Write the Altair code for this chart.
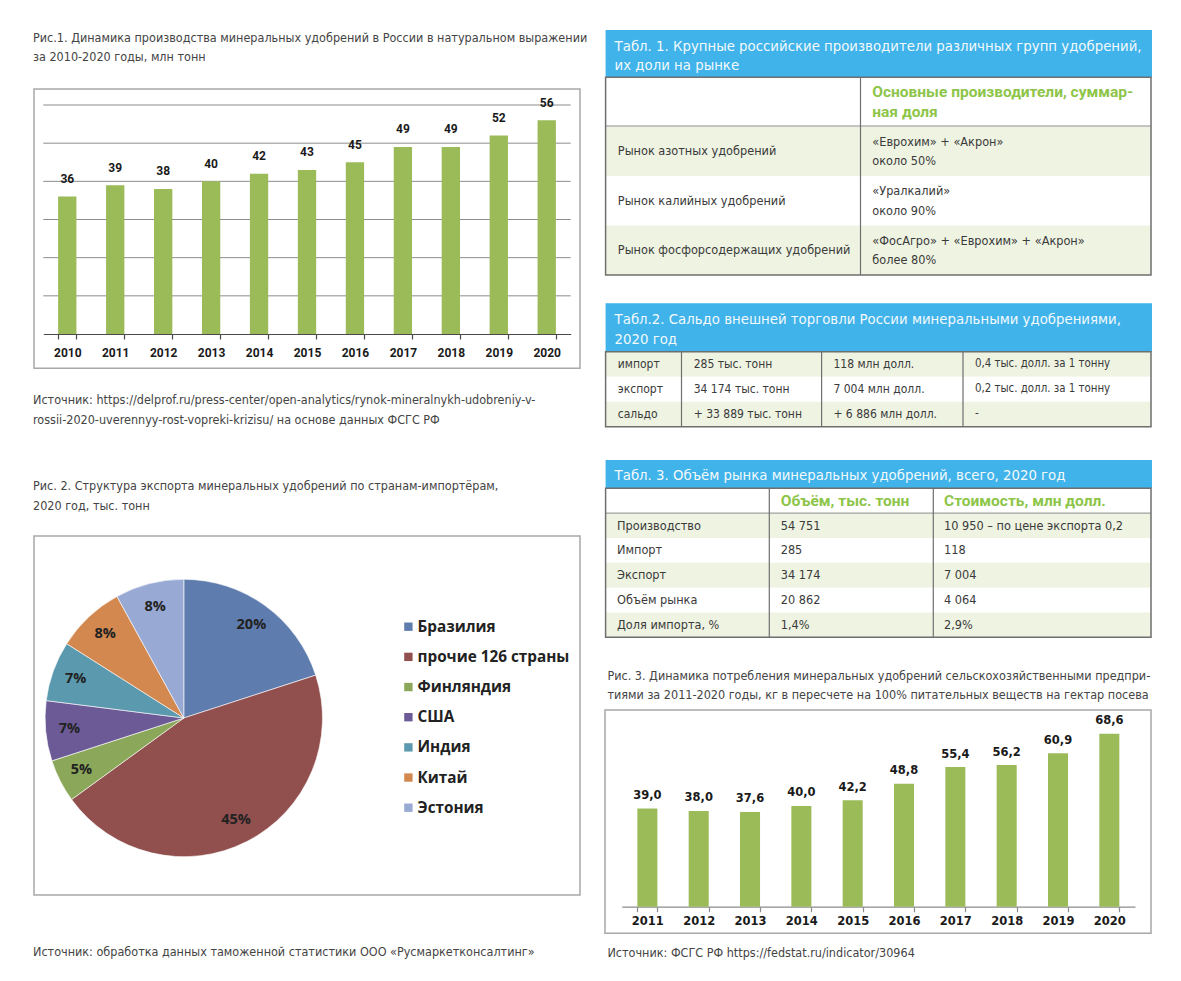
import altair as alt
import pandas as pd

# ---------------- data ----------------
years1 = ["2010", "2011", "2012", "2013", "2014", "2015", "2016", "2017", "2018", "2019", "2020"]
prod1 = [36, 39, 38, 40, 42, 43, 45, 49, 49, 52, 56]
grid1 = [10, 20, 30, 40, 50, 60]

countries = ["Бразилия", "прочие 126 страны", "Финляндия", "США", "Индия", "Китай", "Эстония"]
shares = [20, 45, 5, 7, 7, 8, 8]
pie_colors = ["#5F7CAE", "#914F4E", "#8BA85A", "#6C5A96", "#5B99AE", "#D2884F", "#98A9D4"]

years3 = ["2011", "2012", "2013", "2014", "2015", "2016", "2017", "2018", "2019", "2020"]
cons3 = [39.0, 38.0, 37.6, 40.0, 42.2, 48.8, 55.4, 56.2, 60.9, 68.6]

title1 = ["Рис.1. Динамика производства минеральных удобрений в России в натуральном выражении",
          "за 2010-2020 годы, млн тонн"]
source1 = ["Источник: https://delprof.ru/press-center/open-analytics/rynok-mineralnykh-udobreniy-v-",
           "rossii-2020-uverennyy-rost-vopreki-krizisu/ на основе данных ФСГС РФ"]
title2 = ["Рис. 2. Структура экспорта минеральных удобрений по странам-импортёрам,",
          "2020 год, тыс. тонн"]
source2 = ["Источник: обработка данных таможенной статистики ООО «Русмаркетконсалтинг»"]
title3 = ["Рис. 3. Динамика потребления минеральных удобрений сельскохозяйственными предпри-",
          "тиями за 2011-2020 годы, кг в пересчете на 100% питательных веществ на гектар посева"]
source3 = ["Источник: ФСГС РФ https://fedstat.ru/indicator/30964"]

t1_title = ["Табл. 1. Крупные российские производители различных групп удобрений,",
            "их доли на рынке"]
t1_keys = ["h", "r1", "r2", "r3"]
t1_head = "Основные производители, суммар-\nная доля"
t1_col1 = ["Рынок азотных удобрений", "Рынок калийных удобрений", "Рынок фосфорсодержащих удобрений"]
t1_col2 = ["«Еврохим» + «Акрон»\nоколо 50%", "«Уралкалий»\nоколо 90%",
           "«ФосАгро» + «Еврохим» + «Акрон»\nболее 80%"]

t2_title = ["Табл.2. Сальдо внешней торговли России минеральными удобрениями,", "2020 год"]
t2_keys = ["импорт", "экспорт", "сальдо"]
t2_col2 = ["285 тыс. тонн", "34 174 тыс. тонн", "+ 33 889 тыс. тонн"]
t2_col3 = ["118 млн долл.", "7 004 млн долл.", "+ 6 886 млн долл."]
t2_col4 = ["0,4 тыс. долл. за 1 тонну", "0,2 тыс. долл. за 1 тонну", "-"]

t3_title = ["Табл. 3. Объём рынка минеральных удобрений, всего, 2020 год"]
t3_keys = ["h", "Производство", "Импорт", "Экспорт", "Объём рынка", "Доля импорта, %"]
t3_head = ["Объём, тыс. тонн", "Стоимость, млн долл."]
t3_col2 = ["54 751", "285", "34 174", "20 862", "1,4%"]
t3_col3 = ["10 950 – по цене экспорта 0,2", "118", "7 004", "4 064", "2,9%"]

# ---------------- style ----------------
O = 8
W, H = 1165, 965


def c(v):
    return v - O


NARROW = "DejaVu Sans Condensed, DejaVu Sans, sans-serif"
BOLDF = "Roboto, Open Sans, sans-serif"
WIDE = "DejaVu Sans, Verdana, sans-serif"
LEG = "Open Sans, Noto Sans, sans-serif"

BLUE = "#3FB3EA"
HEADTXT = "#F3F9FC"
GREENTXT = "#8DC549"
ROWBG = "#EEF3E2"
BORDER = "#6F6F6F"
TXT = "#3A3A3A"
CAP = "#444444"
BAR = "#9BBB59"
FRAME = "#A8A8A8"

CAPSIZE = 12.5
BODYSIZE = 12.6
HEADSIZE = 14.8
LH = 19.5

ONE = pd.DataFrame({"k": [0]})
layers = []


def text(s, x, y, size=CAPSIZE, color=CAP, weight="normal", font=NARROW):
    layers.append(alt.Chart(ONE).mark_text(text=s, font=font, fontSize=size, fontWeight=weight,
                                           color=color, align="left", baseline="middle")
                  .encode(x=alt.value(c(x)), y=alt.value(c(y))))


def rect(x1, y1, x2, y2, fill="transparent", stroke=None, sw=0):
    kw = dict(fill=fill)
    if stroke:
        kw.update(stroke=stroke, strokeWidth=sw)
    layers.append(alt.Chart(ONE).mark_rect(**kw).encode(
        x=alt.value(c(x1)), x2=alt.value(c(x2)), y=alt.value(c(y1)), y2=alt.value(c(y2))))


def rule(x1, y1, x2, y2, color=BORDER, sw=1.0):
    layers.append(alt.Chart(ONE).mark_rule(color=color, strokeWidth=sw).encode(
        x=alt.value(c(x1)), x2=alt.value(c(x2)), y=alt.value(c(y1)), y2=alt.value(c(y2))))


def table(keys, top, bottom, left, right, green_test, dividers, header_line, columns):
    ysc = alt.Scale(type="band", domain=keys, range=[c(top), c(bottom)], paddingInner=0, paddingOuter=0)
    layers.append(alt.Chart(pd.DataFrame({"row": keys})).transform_window(i="row_number()")
                  .mark_rect().encode(
        y=alt.Y("row:N", scale=ysc, axis=None),
        x=alt.value(c(left)), x2=alt.value(c(right)),
        color=alt.condition(green_test, alt.value(ROWBG), alt.value("white"))))
    for x, rkeys, texts, style in columns:
        df = pd.DataFrame({"row": rkeys, "t": texts})
        st = dict(font=NARROW, fontSize=BODYSIZE, color=TXT)
        st.update(style)
        if any("\n" in t for t in texts):
            st["dy"] = -LH / 2
        layers.append(alt.Chart(df).mark_text(align="left", baseline="middle", lineBreak="\n",
                                              lineHeight=LH, **st).encode(
            y=alt.Y("row:N", scale=ysc, axis=None), x=alt.value(c(x)), text="t:N"))
    if header_line is not None:
        rule(left, header_line, right, header_line, color="#8A8A8A", sw=1)
    for d in dividers:
        rule(d, top, d, bottom, color=BORDER, sw=1.2)
    rect(left, top, right, bottom, stroke=BORDER, sw=1.5)


def header(x1, y1, x2, y2, lines, ys):
    rect(x1, y1, x2, y2, fill=BLUE)
    for s, y in zip(lines, ys):
        text(s, x1 + 9, y, size=HEADSIZE, color=HEADTXT)


# ---------------- Chart 1 ----------------
for s, y in zip(title1, [38.3, 56.7]):
    text(s, 33, y)
for s, y in zip(source1, [400, 420]):
    text(s, 33, y)
rect(34, 89, 580, 368.3, stroke=FRAME, sw=1.5)

x1s = alt.Scale(domain=years1, range=[c(43.3), c(570.7)], paddingInner=0.618, paddingOuter=0.309)
y1s = alt.Scale(domain=[0, 60], range=[c(334), c(105)])
df1 = pd.DataFrame({"year": years1, "v": prod1})
layers.append(alt.Chart(pd.DataFrame({"g": grid1})).mark_rule(color="#8C8C8C", strokeWidth=1).encode(
    y=alt.Y("g:Q", scale=y1s, axis=None), x=alt.value(c(43.3)), x2=alt.value(c(570.7))))
layers.append(alt.Chart(df1).mark_bar(color=BAR).encode(
    x=alt.X("year:N", scale=x1s, axis=alt.Axis(orient="bottom", offset=c(334) - H, title=None,
                                                  grid=False, labelAngle=0, tickBand="extent",
                                                  tickSize=5, tickColor="#4A4A4A", domainColor="#4A4A4A",
                                                  domainWidth=1.2, tickWidth=1.2,
                                                  labelFont=BOLDF, labelFontSize=12, labelFontWeight="bold",
                                                  labelColor="#1A1A1A", labelPadding=8)),
    y=alt.Y("v:Q", scale=y1s, axis=None)))
layers.append(alt.Chart(df1).mark_text(font=BOLDF, fontSize=12, fontWeight="bold", color="#1A1A1A",
                                       baseline="middle", dy=-17.5).encode(
    x=alt.X("year:N", scale=x1s, axis=None), y=alt.Y("v:Q", scale=y1s, axis=None), text="v:Q"))

# ---------------- Chart 2 (pie) ----------------
for s, y in zip(title2, [486, 506]):
    text(s, 33, y)
for s, y in zip(source2, [952]):
    text(s, 33, y)
rect(34, 536, 580, 895, stroke=FRAME, sw=1.5)

dfp = pd.DataFrame({"country": countries, "share": shares, "idx": list(range(len(countries))),
                    "lab": [f"{s}%" for s in shares]})
cx, cy = c(183.8), c(718)
layers.append(alt.Chart(dfp).mark_arc(radius=138.7, stroke="white", strokeWidth=0.6).encode(
    theta=alt.Theta("share:Q", stack=True),
    color=alt.Color("country:N", scale=alt.Scale(domain=countries, range=pie_colors), legend=None),
    order=alt.Order("idx:Q"), x=alt.value(cx), y=alt.value(cy)))
layers.append(alt.Chart(dfp).mark_text(radius=115, font=LEG, fontSize=14.5, fontWeight="bold",
                                       color="#222222").encode(
    theta=alt.Theta("share:Q", stack=True), order=alt.Order("idx:Q"), text="lab:N",
    x=alt.value(cx), y=alt.value(cy)))
legy = alt.Scale(type="point", domain=countries, range=[c(626.7), c(807.7)], padding=0)
layers.append(alt.Chart(dfp).mark_square(size=70, opacity=1).encode(
    y=alt.Y("country:N", scale=legy, axis=None), x=alt.value(c(408.4)),
    color=alt.Color("country:N", scale=alt.Scale(domain=countries, range=pie_colors), legend=None)))
layers.append(alt.Chart(dfp).mark_text(font=LEG, fontSize=15.3, fontWeight="bold", color="#222222",
                                       align="left", baseline="middle").encode(
    y=alt.Y("country:N", scale=legy, axis=None), x=alt.value(c(417.5)), text="country:N"))

# ---------------- Table 1 ----------------
header(605.6, 30, 1152, 77.3, t1_title, [46.7, 65.7])
table(t1_keys, 77.3, 275, 605.6, 1151, "datum.i % 2 == 0", [860.5], 126,
      [(617.8, t1_keys[1:], t1_col1, {}),
       (872.3, ["h"], [t1_head], dict(font=BOLDF, fontSize=15.5, fontWeight="bold", color=GREENTXT)),
       (872.3, t1_keys[1:], t1_col2, {})])

# ---------------- Table 2 ----------------
header(605.6, 303.3, 1152, 351.7, t2_title, [320, 340])
table(t2_keys, 351.7, 426.7, 605.6, 1151, "datum.i % 2 == 1", [681.5, 821.6, 963], None,
      [(617.8, t2_keys, t2_keys, dict(fontSize=12)),
       (693.7, t2_keys, t2_col2, dict(fontSize=12)),
       (833.4, t2_keys, t2_col3, dict(fontSize=12)),
       (975, t2_keys, t2_col4, dict(fontSize=11.4))])

# ---------------- Table 3 ----------------
header(605.6, 460, 1152, 488.3, t3_title, [476])
table(t3_keys, 488.3, 637.3, 605.6, 1151, "datum.i % 2 == 0", [769.3, 933.3], 513.1,
      [(617, t3_keys[1:], t3_keys[1:], {}),
       (780.7, ["h"], [t3_head[0]], dict(font=BOLDF, fontSize=15.5, fontWeight="bold", color=GREENTXT)),
       (944, ["h"], [t3_head[1]], dict(font=BOLDF, fontSize=15.5, fontWeight="bold", color=GREENTXT)),
       (780.7, t3_keys[1:], t3_col2, {}),
       (944, t3_keys[1:], t3_col3, {})])

# ---------------- Chart 3 ----------------
for s, y in zip(title3, [676, 695]):
    text(s, 607.4, y)
for s, y in zip(source3, [952.7]):
    text(s, 607.4, y)
rect(605, 710, 1151, 933.3, stroke=FRAME, sw=1.5)

x3s = alt.Scale(domain=years3, range=[c(621.7), c(1135)], paddingInner=0.61, paddingOuter=0.305)
y3s = alt.Scale(domain=[0, 80], range=[c(906.7), c(906.7 - 80 * 2.52)])
df3 = pd.DataFrame({"year": years3, "v": cons3, "lab": [f"{v:.1f}".replace(".", ",") for v in cons3]})
layers.append(alt.Chart(df3).mark_bar(color=BAR).encode(
    x=alt.X("year:N", scale=x3s, axis=alt.Axis(orient="bottom", offset=c(906.7) - H, title=None,
                                                  grid=False, labelAngle=0, tickBand="extent",
                                                  tickSize=5, tickColor="#8C8C8C", domainColor="#8C8C8C",
                                                  domainWidth=1.2, tickWidth=1.2,
                                                  labelFont=WIDE, labelFontSize=11.5, labelFontWeight="bold",
                                                  labelColor="#1A1A1A", labelPadding=4)),
    y=alt.Y("v:Q", scale=y3s, axis=None)))
layers.append(alt.Chart(df3).mark_text(font=WIDE, fontSize=11.5, fontWeight="bold", color="#1A1A1A",
                                       baseline="middle", dy=-12.5).encode(
    x=alt.X("year:N", scale=x3s, axis=None), y=alt.Y("v:Q", scale=y3s, axis=None), text="lab:N"))

chart = (alt.layer(*layers)
         .resolve_scale(x="independent", y="independent", color="independent", theta="independent")
         .properties(width=W, height=H, padding=0, autosize=alt.AutoSizeParams(type="none"),
                     background="white")
         .configure_view(strokeWidth=0))

chart.save("out.html", embed_options={"renderer": "svg", "actions": False})
